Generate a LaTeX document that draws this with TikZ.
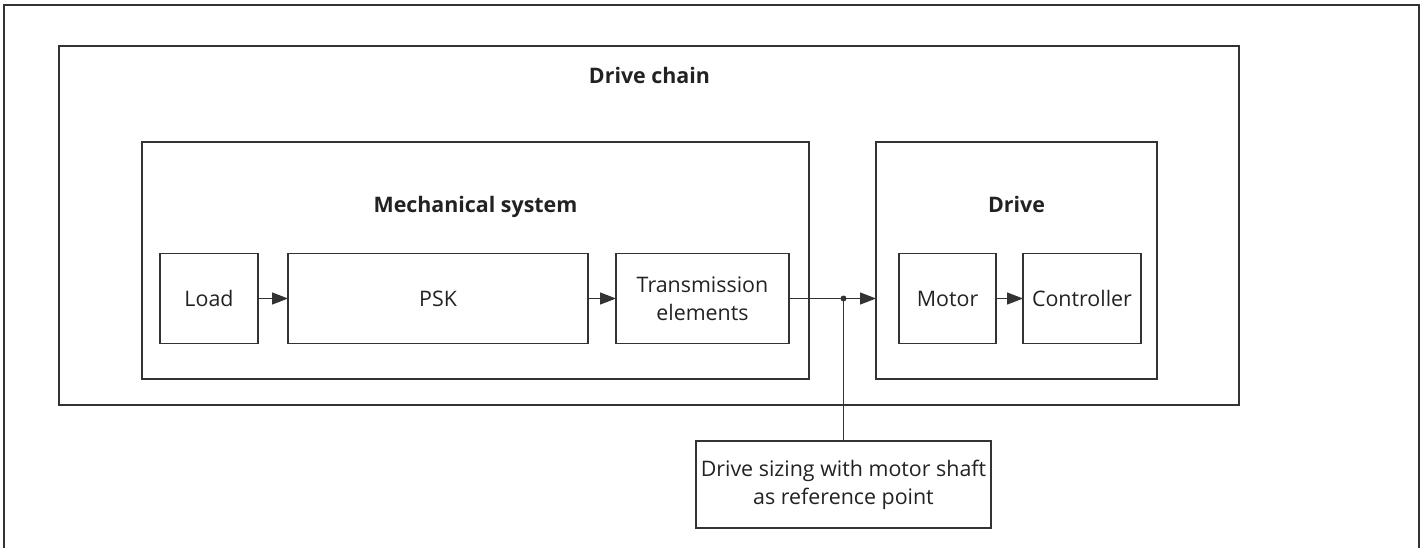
\documentclass[tikz,border=0pt]{standalone}
\usepackage{fontspec}
\setmainfont{Open Sans}
\usetikzlibrary{arrows.meta}
\definecolor{ln}{HTML}{333333}
\definecolor{tx}{HTML}{222222}
\begin{document}
\begin{tikzpicture}[x=1pt,y=-1pt,
  box/.style={draw=ln,line width=1.3pt,inner sep=0pt,outer sep=0pt,align=center,text=tx,
    font=\fontsize{21.4}{28}\selectfont},
  ttl/.style={anchor=base,text=tx,inner sep=0pt,font=\fontsize{21.4}{28}\selectfont\bfseries},
  arr/.style={draw=ln,line width=1.3pt,-{Triangle[length=16pt,width=12pt]}},
  con/.style={draw=ln,line width=1.3pt}]
\useasboundingbox (0,0) rectangle (1426,547);
\clip (0,0) rectangle (1426,547);
\draw[con] (4,560) -- (4,5) -- (1419,5) -- (1419,560);
\node[box,minimum width=1180pt,minimum height=359pt] (chain) at (649,225.5) {};
\node[box,minimum width=667pt,minimum height=237pt] (mech) at (475.5,260.5) {};
\node[box,minimum width=281pt,minimum height=237pt] (drive) at (1016.5,260.5) {};
\node[ttl] (chaint) at (649.5,83) {Drive chain};
\node[ttl] (mecht) at (475.5,212) {Mechanical system};
\node[ttl] (drivet) at (1016.5,212) {Drive};
\node[box,minimum width=98pt,minimum height=89.5pt] (load) at (209,298.5) {Load};
\node[box,minimum width=300pt,minimum height=89.5pt] (psk) at (438,298.5) {PSK};
\node[box,minimum width=173pt,minimum height=89.5pt] (trans) at (702.5,298.5) {Transmission\\elements};
\node[box,minimum width=97pt,minimum height=89.5pt] (motor) at (947.5,298.5) {Motor};
\node[box,minimum width=118pt,minimum height=89.5pt] (ctrl) at (1082,298.5) {Controller};
\node[box,minimum width=295pt,minimum height=87pt] (sizing) at (843.5,484.5) {Drive sizing with motor shaft\\as reference point};
\draw[arr] (load) -- (psk);
\draw[arr] (psk) -- (trans);
\draw[arr] (motor) -- (ctrl);
\draw[arr] (trans.east) -- (trans.east -| drive.west);
\coordinate (j) at (trans.east -| sizing.north);
\draw[con] (j) -- (sizing.north);
\fill[ln] (j) circle (3pt);
\end{tikzpicture}
\end{document}
